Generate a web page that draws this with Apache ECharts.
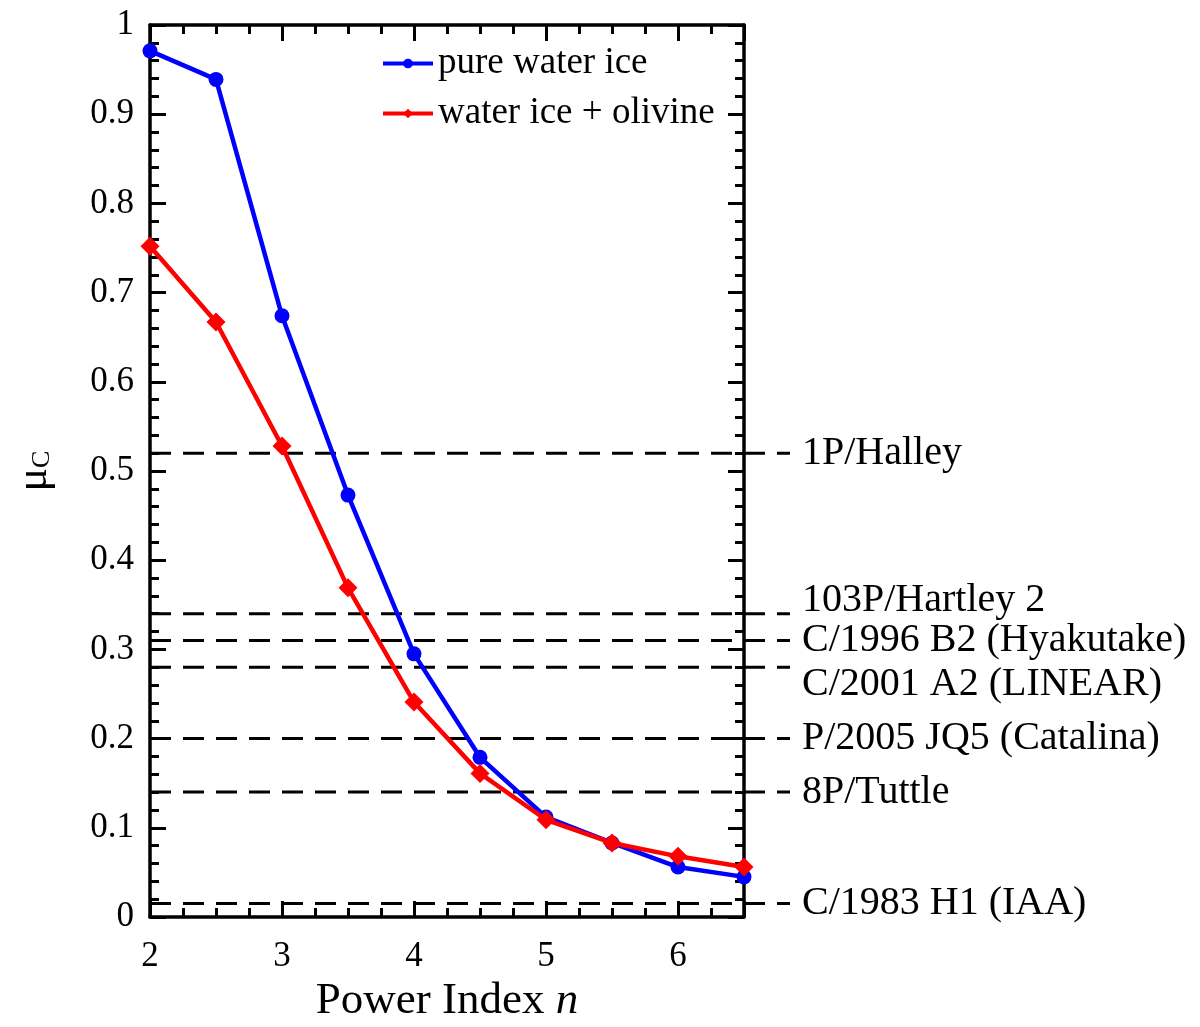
<!DOCTYPE html>
<html style="height: 100%">

<head>
    <meta charset="UTF-8" />
    <script type="text/javascript" src="https://cdn.jsdelivr.net/npm/echarts@6.0.0/dist/echarts.min.js"></script>
</head>

<body style="height: 100%; margin: 0">
    <div id="container" style="height: 100%"></div>
    <script>
        // power index n
        var powerIndex = [2, 2.5, 3, 3.5, 4, 4.5, 5, 5.5, 6, 6.5];
        var pureIce = [0.971, 0.939, 0.674, 0.473, 0.295, 0.179, 0.112, 0.083, 0.056, 0.045];
        var iceOlivine = [0.752, 0.667, 0.528, 0.369, 0.241, 0.161, 0.109, 0.083, 0.068, 0.056];
        // comet reference levels
        var cometNames = ['1P/Halley', '103P/Hartley 2', 'C/1996 B2 (Hyakutake)', 'C/2001 A2 (LINEAR)',
            'P/2005 JQ5 (Catalina)', '8P/Tuttle', 'C/1983 H1 (IAA)'];
        var cometMu = [0.52, 0.34, 0.31, 0.28, 0.20, 0.14, 0.015];
        var labelShift = [0, -13, 0, 17, 0, 0, 0];

        var font = 'Liberation Serif';
        var dom = document.getElementById("container");
        var chart = echarts.init(dom);

        function pairs(xs, ys) {
            return xs.map(function (x, i) { return [x, ys[i]]; });
        }

        var tickStyle = { color: '#000', width: 3 };
        var axisBase = {
            axisLine: { show: true, onZero: false, lineStyle: { color: '#000', width: 3.5 } },
            axisTick: { show: true, inside: true, length: 16, lineStyle: tickStyle },
            minorTick: { show: true, length: 9, lineStyle: tickStyle },
            splitLine: { show: false }
        };

        var dashSeries = cometNames.map(function (name, i) {
            return {
                type: 'line',
                name: name,
                xAxisIndex: 2,
                yAxisIndex: 2,
                data: [[0, cometMu[i]], [1, cometMu[i]]],
                symbol: 'none',
                silent: true,
                z: 1,
                lineStyle: { color: '#000', width: 3, type: [21, 12] },
                endLabel: {
                    show: true,
                    formatter: name,
                    distance: 12,
                    offset: [0, labelShift[i]],
                    fontFamily: font,
                    fontSize: 40,
                    color: '#000'
                }
            };
        });

        var gridBox = { left: 150, right: 456, top: 25, bottom: 110, outerBoundsMode: 'none', containLabel: false };

        var option = {
            animation: false,
            backgroundColor: '#fff',
            grid: [
                gridBox,
                Object.assign({}, gridBox),
                { left: 150, width: 640, top: 25, bottom: 110, outerBoundsMode: 'none', containLabel: false }
            ],
            legend: {
                left: 376,
                top: 40,
                orient: 'vertical',
                itemWidth: 50,
                itemHeight: 12,
                itemGap: 13,
                data: ['pure water ice', 'water ice + olivine'],
                lineStyle: { width: 4 },
                textStyle: { fontFamily: font, fontSize: 37, color: '#000' }
            },
            xAxis: [
                Object.assign({}, axisBase, {
                    type: 'value', gridIndex: 0, min: 2, max: 6.5, interval: 1,
                    minorTick: Object.assign({}, axisBase.minorTick, { splitNumber: 4 }),
                    axisLabel: { showMaxLabel: false, fontFamily: font, fontSize: 35, color: '#000', margin: 22 },
                    name: '{a|Power Index }{b|n}',
                    nameLocation: 'middle',
                    nameGap: 61,
                    nameTextStyle: {
                        rich: {
                            a: { fontFamily: font, fontSize: 45, color: '#000' },
                            b: { fontFamily: font, fontSize: 45, fontStyle: 'italic', color: '#000' }
                        }
                    }
                }),
                Object.assign({}, axisBase, {
                    type: 'value', gridIndex: 1, position: 'top', min: 2, max: 6.5, interval: 1,
                    minorTick: Object.assign({}, axisBase.minorTick, { splitNumber: 4 }),
                    axisLabel: { show: false }
                }),
                { type: 'value', gridIndex: 2, min: 0, max: 1, show: false }
            ],
            yAxis: [
                Object.assign({}, axisBase, {
                    type: 'value', gridIndex: 0, min: 0, max: 1, interval: 0.1,
                    minorTick: Object.assign({}, axisBase.minorTick, { splitNumber: 5 }),
                    axisLabel: {
                        fontFamily: font, fontSize: 35, color: '#000', margin: 16,
                        formatter: function (v) { return String(Math.round(v * 10) / 10); }
                    },
                    name: '{a|μ}{b|C}',
                    nameLocation: 'middle',
                    nameGap: 94,
                    nameTextStyle: {
                        rich: {
                            a: { fontFamily: font, fontSize: 44, color: '#000' },
                            b: { fontFamily: font, fontSize: 26, color: '#000', padding: [16, 0, 0, 0] }
                        }
                    }
                }),
                Object.assign({}, axisBase, {
                    type: 'value', gridIndex: 1, position: 'right', min: 0, max: 1, interval: 0.1,
                    minorTick: Object.assign({}, axisBase.minorTick, { splitNumber: 5 }),
                    axisLabel: { show: false }
                }),
                { type: 'value', gridIndex: 2, min: 0, max: 1, show: false }
            ],
            series: dashSeries.concat([
                {
                    type: 'line',
                    name: 'pure water ice',
                    data: pairs(powerIndex, pureIce),
                    symbol: 'circle',
                    symbolSize: 15,
                    z: 5,
                    itemStyle: { color: '#0000ff' },
                    lineStyle: { color: '#0000ff', width: 4.5 }
                },
                {
                    type: 'line',
                    name: 'water ice + olivine',
                    data: pairs(powerIndex, iceOlivine),
                    symbol: 'diamond',
                    symbolSize: 19,
                    z: 6,
                    itemStyle: { color: '#ff0000' },
                    lineStyle: { color: '#ff0000', width: 4.5 }
                }
            ])
        };

        chart.setOption(option);
    </script>
</body>

</html>
